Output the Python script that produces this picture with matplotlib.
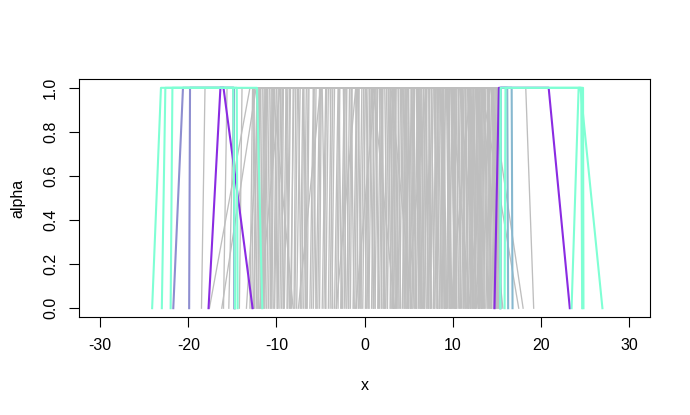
import matplotlib
matplotlib.use("Agg")
import matplotlib.pyplot as plt

plt.rcParams['font.family'] = ['Liberation Sans', 'DejaVu Sans']

# fuzzy numbers (a, b, c, d): support [a, d], core [b, c]
gray_fuzzy = [
    (-18.5, -18.1, 3.2, 3.5), (-17.6, -13.0, 6.1, 6.4), (-16.2, -12.3, -5.8, -5.5),
    (-15.4, -14.8, 9.8, 10.3), (-14.2, -13.9, -2.1, -1.8), (-13.4, -11.8, 12.4, 12.9),
    (-12.8, -12.5, 0.6, 1.0), (-12.1, -11.9, 7.3, 7.5), (-11.7, -11.4, -8.9, -8.5),
    (-11.3, -11.0, 4.4, 4.7), (-10.9, -10.6, 13.2, 15.7), (-10.5, -10.3, -3.9, -3.6),
    (-10.2, -9.8, 10.9, 11.2), (-9.8, -9.5, 2.3, 2.6), (-9.4, -9.2, -6.9, -6.6),
    (-9.1, -8.7, 8.2, 8.5), (-8.8, -8.5, -0.7, -0.4), (-8.4, -8.0, 14.3, 18.0),
    (-8.0, -7.8, 5.3, 5.6), (-7.7, -7.3, -4.8, -4.4), (-7.3, -7.0, 11.7, 12.0),
    (-6.9, -6.6, 1.7, 2.0), (-6.5, -6.3, 9.3, 9.6), (-6.2, -5.8, -1.5, -1.2),
    (-5.8, -5.5, 6.7, 7.0), (-5.5, -5.1, 13.7, 14.1), (-5.1, -4.9, 3.8, 4.1),
    (-4.8, -4.4, -2.9, -2.6), (-4.4, -4.1, 10.2, 10.5), (-4.1, -3.8, 0.2, 0.5),
    (-3.7, -3.4, 7.9, 8.3), (-3.4, -3.0, 12.6, 13.0), (-3.0, -2.8, 2.9, 3.2),
    (-2.7, -2.3, 5.9, 6.2), (-2.3, -2.0, -0.1, 0.2), (-2.0, -1.7, 9.0, 9.3),
    (-1.6, -1.4, 4.9, 5.2), (-1.3, -0.9, 11.4, 11.8), (-0.9, -0.6, 1.3, 1.6),
    (-0.6, -0.3, 7.0, 7.3), (-0.2, 0.1, 14.8, 15.1), (0.1, 0.4, 3.5, 3.8),
    (0.5, 0.8, 10.6, 10.9), (0.8, 1.1, 6.4, 6.7), (1.2, 1.5, 8.7, 9.1),
    (1.5, 1.8, 13.4, 13.7), (1.9, 2.1, 4.2, 4.5), (2.2, 2.5, 12.1, 12.4),
    (2.6, 2.9, 7.6, 7.9), (2.9, 3.2, 9.9, 10.2), (3.3, 3.6, 5.5, 5.8),
    (3.6, 3.9, 14.0, 14.4), (4.0, 4.3, 8.4, 8.7), (4.3, 4.6, 11.0, 11.4),
    (4.7, 5.0, 6.9, 7.2), (5.0, 5.3, 13.0, 13.3), (5.4, 5.7, 9.6, 9.9),
    (5.7, 6.0, 12.2, 12.6), (6.1, 6.4, 8.0, 8.3), (6.4, 6.7, 14.6, 14.9),
    (6.8, 7.1, 10.4, 10.7), (7.1, 7.4, 12.9, 13.2), (7.5, 7.8, 11.2, 11.5),
    (7.8, 8.1, 13.9, 14.2), (8.2, 8.5, 9.4, 9.7), (8.5, 8.9, 12.7, 13.0),
    (8.9, 9.2, 11.5, 11.8), (9.3, 9.6, 14.5, 14.8), (9.6, 10.0, 13.1, 13.4),
    (10.0, 10.3, 11.9, 12.2), (10.4, 10.7, 14.9, 15.2), (10.8, 11.1, 13.5, 13.9),
    (11.2, 11.5, 12.3, 12.6), (11.6, 11.9, 14.2, 14.6), (12.0, 12.4, 13.6, 14.0),
    (12.5, 12.8, 18.3, 19.2), (13.0, 13.3, 14.7, 15.0), (-11.9, -9.6, 3.0, 5.4),
    (-7.5, -5.0, 10.8, 12.9), (-1.0, 1.2, 9.8, 12.0), (9.8, 12.0, 14.1, 14.4),
    (-13.0, -12.7, -10.4, -8.1), (-16.0, -15.6, -12.6, -12.2), (-12.6, -12.2, 13.3, 17.5),
    (-10.6, -10.4, -9.5, -9.2), (-3.2, -1.0, 1.0, 3.4), (4.8, 7.0, 15.0, 15.4),
    (-12.0, -11.8, 2.7, 3.0), (-11.8, -11.6, 8.8, 9.1), (-11.5, -11.2, -1.0, -0.7),
    (-11.1, -10.8, 6.0, 6.3), (-10.7, -10.5, 12.0, 12.3), (-10.3, -10.0, 1.9, 2.2),
    (-9.9, -9.7, 5.0, 5.3), (-9.6, -9.3, 10.0, 10.3), (-9.2, -8.9, -2.4, -2.1),
    (-8.7, -8.4, 7.6, 7.9), (-8.3, -8.1, 3.3, 3.6), (-7.9, -7.6, 13.0, 13.3),
    (-7.1, -6.9, 0.9, 1.2), (-6.7, -6.4, 8.6, 8.9), (-6.0, -5.7, 4.6, 4.9),
    (-5.3, -5.0, 11.1, 11.4), (-4.6, -4.3, 2.0, 2.3), (-3.9, -3.6, 6.5, 6.8),
    (-3.2, -2.9, 9.5, 9.8), (-2.5, -2.2, 14.0, 14.3), (-1.8, -1.5, 3.0, 3.3),
    (-1.1, -0.8, 8.0, 8.3), (-0.4, -0.1, 5.6, 5.9), (0.3, 0.6, 12.8, 13.1),
    (1.0, 1.3, 4.7, 5.0), (1.7, 2.0, 10.7, 11.0), (2.4, 2.7, 6.2, 6.5),
    (3.1, 3.4, 13.2, 13.5), (3.8, 4.1, 7.3, 7.6), (4.5, 4.8, 12.4, 12.7),
    (5.2, 5.5, 8.9, 9.2), (5.9, 6.2, 14.1, 14.4), (6.6, 6.9, 11.8, 12.1),
    (7.3, 7.6, 10.1, 10.4), (8.0, 8.3, 15.1, 15.3), (8.7, 9.0, 13.3, 13.6),
    (9.4, 9.7, 12.0, 12.3), (10.1, 10.4, 14.4, 14.7), (-11.4, -11.1, -10.2, -9.9),
    (-12.3, -12.0, -7.5, -7.2), (-12.5, -12.2, 11.4, 11.7), (-11.6, -11.3, 14.6, 14.9),
]
purple_fuzzy = [(-17.7, -16.35, -16.0, -12.7), (14.75, 15.25, 20.9, 23.3)]
slate_fuzzy = [(-21.7, -20.6, -14.85, -14.75), (-19.9, -19.8, -14.85, -14.75)]
blue_fuzzy = [(15.42, 15.45, 16.2, 16.3), (15.42, 15.45, 16.7, 16.8)]
aqua_fuzzy = [(-24.1, -23.1, -14.9, -14.7), (-23.0, -22.6, -12.2, -11.6),
              (-22.0, -21.8, -14.5, -14.4), (15.4, 15.45, 24.8, 24.85),
              (23.5, 24.3, 24.5, 27.0), (15.9, 16.0, 24.6, 24.7)]
alpha = [0, 1, 1, 0]

x_ticks = [-30, -20, -10, 0, 10, 20, 30]
y_ticks = [0.0, 0.2, 0.4, 0.6, 0.8, 1.0]

fig = plt.figure(figsize=(6.9, 4.15), dpi=100)
ax = fig.add_axes([79 / 690, 1 - 317 / 415, 571 / 690, 238 / 415])

for f in gray_fuzzy:
    ax.plot(f, alpha, color='#bebebe', lw=0.95)
for f in slate_fuzzy:
    ax.plot(f, alpha, color='#8e8ed0', lw=1.5)
for f in blue_fuzzy:
    ax.plot(f, alpha, color='#86b8cf', lw=1.5)
for f in purple_fuzzy:
    ax.plot(f, alpha, color='#8a2be2', lw=1.5)
for f in aqua_fuzzy:
    ax.plot(f, alpha, color='#7fffd4', lw=1.5)

ax.set_xlim(-32.4, 32.4)
ax.set_ylim(-0.04, 1.04)
ax.set_xticks(x_ticks)
ax.set_xticklabels([str(t) for t in x_ticks])
ax.set_yticks(y_ticks)
ax.set_yticklabels(['%.1f' % t for t in y_ticks], rotation=90, va='center')
ax.tick_params(direction='out', length=7, width=0.8, pad=8, labelsize=11.5)
for s in ax.spines.values():
    s.set_linewidth(0.8)

ax.set_xlabel('x', fontsize=11.5)
ax.xaxis.set_label_coords(0.5, -0.286)
ax.xaxis.label.set_va('center')
ax.set_ylabel('alpha', fontsize=11.5)
ax.yaxis.set_label_coords(-0.107, 0.5)
ax.yaxis.label.set_va('center')

fig.savefig('out.png', dpi=100)
